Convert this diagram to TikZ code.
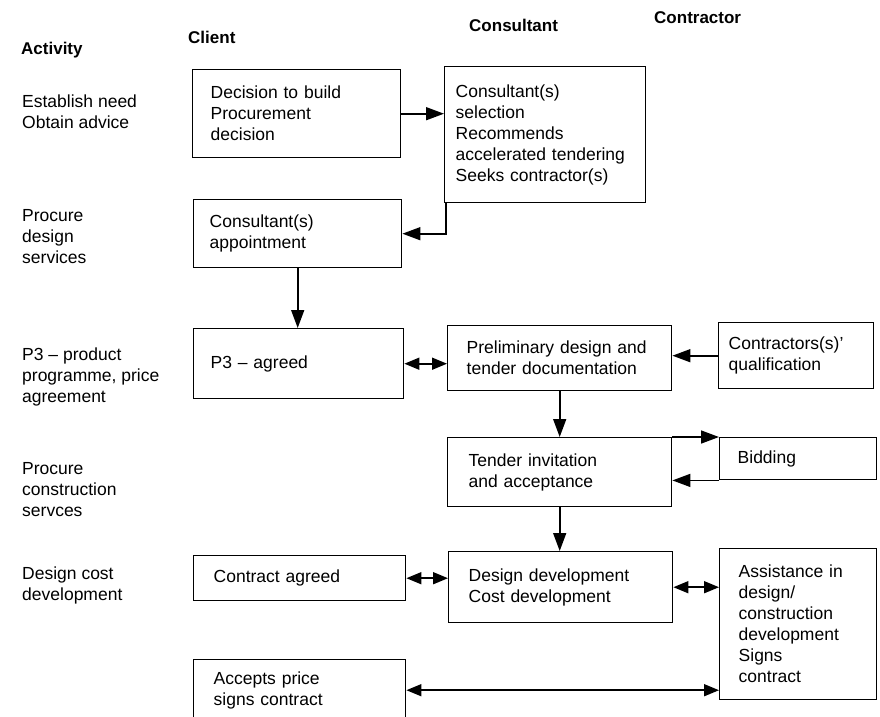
\documentclass[tikz,border=0pt]{standalone}
\usepackage{fontspec}
\setmainfont{Liberation Sans}
\usetikzlibrary{arrows.meta}
\begin{document}
\begin{tikzpicture}[x=1pt,y=-1pt,
  every node/.style={font=\fontsize{17.5}{21}\selectfont},
  box/.style={draw, line width=1.4pt, anchor=north west, align=left, inner ysep=0pt},
  head/.style={font=\fontsize{17}{20}\selectfont\bfseries, anchor=west, inner sep=0pt},
  act/.style={anchor=west, align=left, inner sep=0pt},
  arr/.style={line width=1.6pt, -{Triangle[length=18pt,width=13pt]}},
  darr/.style={line width=1.6pt, {Triangle[length=15pt,width=12pt]}-{Triangle[length=15pt,width=12pt]}}]
\useasboundingbox (0,0) rectangle (880,716);

% column headings
\node[head] (hact) at (21,50) {Activity};
\node[head] (hcli) at (188,37) {Client};
\node[head] (hcon) at (469,25) {Consultant};
\node[head] (hctr) at (654,18) {Contractor};

% activity column
\node[act] (a1) at (22,112) {Establish need\\Obtain advice};
\node[act] (a2) at (22,237) {Procure\\design\\services};
\node[act] (a3) at (22,377) {P3 – product\\programme, price\\agreement};
\node[act] (a4) at (22,490) {Procure\\construction\\servces};
\node[act] (a5) at (22,585) {Design cost\\development};

% process boxes
\node[box, minimum width=208pt, minimum height=88pt, inner xsep=18pt, text width=172pt] (dec) at (192,69) {Decision to build\\Procurement\\decision};
\node[box, minimum width=201pt, minimum height=136pt, inner xsep=11pt, text width=179pt] (sel) at (444,66) {Consultant(s)\\selection\\Recommends\\accelerated tendering\\Seeks contractor(s)};
\node[box, minimum width=208pt, minimum height=68pt, inner xsep=16pt, text width=176pt] (app) at (193,199) {Consultant(s)\\appointment};
\node[box, minimum width=210pt, minimum height=70pt, inner xsep=17pt, text width=176pt] (p3) at (193,328) {P3 – agreed};
\node[box, minimum width=224pt, minimum height=65pt, inner xsep=19pt, text width=186pt] (pre) at (447,325) {Preliminary design and\\tender documentation};
\node[box, minimum width=155pt, minimum height=66pt, inner xsep=10pt, text width=135pt] (qual) at (718,322) {Contractors(s)'\\qualification};
\node[box, minimum width=224pt, minimum height=69pt, inner xsep=21pt, text width=182pt] (ten) at (447,437) {Tender invitation\\and acceptance};
\node[box, minimum width=157pt, minimum height=42pt, inner xsep=18pt, text width=121pt] (bid) at (719,437) {Bidding};
\node[box, minimum width=212pt, minimum height=45pt, inner xsep=20pt, text width=172pt] (con) at (193,555) {Contract agreed};
\node[box, minimum width=224pt, minimum height=71pt, inner xsep=20pt, text width=184pt] (des) at (448,551) {Design development\\Cost development};
\node[box, minimum width=157pt, minimum height=151pt, inner xsep=19pt, text width=119pt] (ass) at (719,548) {Assistance in\\design/\\construction\\development\\Signs\\contract};
\node[box, minimum width=212pt, minimum height=61pt, inner xsep=20pt, text width=172pt] (acc) at (193,659) {Accepts price\\signs contract};

% connectors
\draw[arr] (dec.east) -- (dec.east -| sel.west);
\draw[arr] ([xshift=2pt]sel.south west) |- (app.east);
\draw[arr] (app.south) -- (app.south |- p3.north);
\draw[darr] (p3.east) -- (p3.east -| pre.west);
\draw[arr] (qual.west) -- (qual.west -| pre.east);
\draw[arr] (pre.south) -- (pre.south |- ten.north);
\draw[arr] (ten.north east) -- (bid.north west);
\draw[arr] (bid.south west) -- (bid.south west -| ten.east);
\draw[arr] (ten.south) -- (ten.south |- des.north);
\draw[darr] (con.east) -- (con.east -| des.west);
\draw[darr] (des.east) -- (des.east -| ass.west);
\draw[darr] (acc.east) -- (acc.east -| ass.west);
\end{tikzpicture}
\end{document}
